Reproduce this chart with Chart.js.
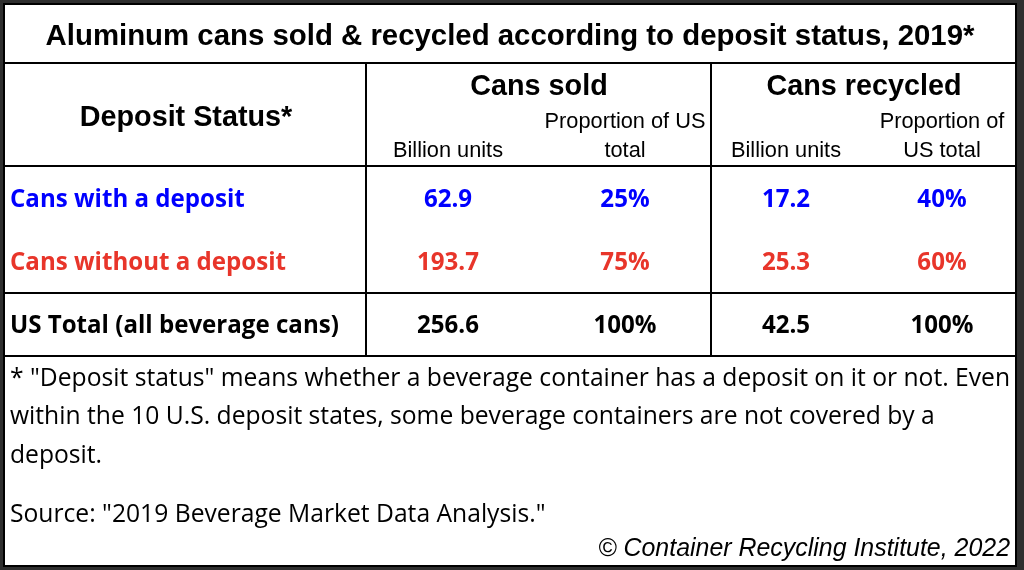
<!DOCTYPE html>
<html>
<head>
<meta charset="utf-8">
<script src="https://cdn.jsdelivr.net/npm/chart.js@4.4.1/dist/chart.umd.min.js"></script>
<style>
  html, body { margin: 0; padding: 0; background: #2f2f2f; }
  #wrap { width: 1024px; height: 570px; }
</style>
</head>
<body>
<div id="wrap"><canvas id="cans"></canvas></div>
<script>
// table content
var title = 'Aluminum cans sold & recycled according to deposit status, 2019*';
var statusHeader = 'Deposit Status*';
var groupLabels = ['Cans sold', 'Cans recycled'];
var subLabels = [['', 'Billion units'], ['Proportion of US', 'total'], ['', 'Billion units'], ['Proportion of', 'US total']];
var rowLabels = ['Cans with a deposit', 'Cans without a deposit', 'US Total (all beverage cans)'];
var soldBillions = [62.9, 193.7, 256.6];
var soldShare = [25, 75, 100];
var recycledBillions = [17.2, 25.3, 42.5];
var recycledShare = [40, 60, 100];
var notes = [
    '* "Deposit status" means whether a beverage container has a deposit on it or not. Even',
    'within the 10 U.S. deposit states, some beverage containers are not covered by a',
    'deposit.'
];
var source = 'Source: "2019 Beverage Market Data Analysis."';
var credit = '\u00a9 Container Recycling Institute, 2022';

// layout (pixel units on the hidden linear scales)
var colX = [10, 448, 625, 786, 942];
var groupX = [539, 864];
var rowY = [207, 270, 333];
var rowColors = ['#0000ff', '#e8352a', '#000000'];
var hLines = [63, 166, 293, 356];
var vLines = [366, 711];
var frame = { left: 4, right: 1016, top: 4, bottom: 566 };

var ARIAL = '"Liberation Sans", Arial, sans-serif';
var CALIBRI = '"Open Sans", "Noto Sans", sans-serif';

function fitFont(ctx, style, family, text, width) {
    ctx.font = style + ' 100px ' + family;
    var w = ctx.measureText(text).width;
    return style + ' ' + (100 * width / w).toFixed(2) + 'px ' + family;
}

function fmtNum(v) { return v.toFixed(1); }
function fmtPct(v) { return v + '%'; }

const tablePlugin = {
    id: 'tablePlugin',
    beforeDraw: function (chart) {
        var ctx = chart.ctx, x = chart.scales.x, y = chart.scales.y;
        ctx.save();
        ctx.fillStyle = '#ffffff';
        ctx.fillRect(x.getPixelForValue(frame.left), y.getPixelForValue(frame.top),
            x.getPixelForValue(frame.right) - x.getPixelForValue(frame.left),
            y.getPixelForValue(frame.bottom) - y.getPixelForValue(frame.top));
        ctx.restore();
    },
    afterDraw: function (chart) {
        var ctx = chart.ctx, x = chart.scales.x, y = chart.scales.y;
        ctx.save();

        // grid lines
        ctx.strokeStyle = '#000';
        ctx.lineWidth = 2;
        ctx.strokeRect(x.getPixelForValue(frame.left), y.getPixelForValue(frame.top),
            x.getPixelForValue(frame.right) - x.getPixelForValue(frame.left),
            y.getPixelForValue(frame.bottom) - y.getPixelForValue(frame.top));
        ctx.beginPath();
        hLines.forEach(function (v) {
            ctx.moveTo(x.getPixelForValue(frame.left), y.getPixelForValue(v));
            ctx.lineTo(x.getPixelForValue(frame.right), y.getPixelForValue(v));
        });
        vLines.forEach(function (v) {
            ctx.moveTo(x.getPixelForValue(v), y.getPixelForValue(hLines[0]));
            ctx.lineTo(x.getPixelForValue(v), y.getPixelForValue(hLines[hLines.length - 1]));
        });
        ctx.stroke();

        ctx.textBaseline = 'alphabetic';
        ctx.fillStyle = '#000';

        // title
        ctx.textAlign = 'center';
        ctx.font = fitFont(ctx, 'bold', ARIAL, title, 929);
        ctx.fillText(title, x.getPixelForValue(510), y.getPixelForValue(45));

        // headers
        ctx.font = fitFont(ctx, 'bold', ARIAL, groupLabels[1], 195);
        ctx.fillText(statusHeader, x.getPixelForValue(186), y.getPixelForValue(126));
        groupLabels.forEach(function (g, i) {
            ctx.fillText(g, x.getPixelForValue(groupX[i]), y.getPixelForValue(95));
        });
        ctx.font = fitFont(ctx, '', ARIAL, subLabels[1][0], 161);
        subLabels.forEach(function (s, i) {
            ctx.fillText(s[0], x.getPixelForValue(colX[i + 1]), y.getPixelForValue(128));
            ctx.fillText(s[1], x.getPixelForValue(colX[i + 1]), y.getPixelForValue(157));
        });

        // body cells
        var cellFont = fitFont(ctx, 'bold', CALIBRI, rowLabels[1], 276);
        ctx.font = cellFont;
        rowLabels.forEach(function (label, r) {
            ctx.fillStyle = rowColors[r];
            ctx.textAlign = 'left';
            ctx.fillText(label, x.getPixelForValue(colX[0]), y.getPixelForValue(rowY[r]));
            ctx.textAlign = 'center';
            var cells = [fmtNum(soldBillions[r]), fmtPct(soldShare[r]), fmtNum(recycledBillions[r]), fmtPct(recycledShare[r])];
            cells.forEach(function (t, c) {
                ctx.fillText(t, x.getPixelForValue(colX[c + 1]), y.getPixelForValue(rowY[r]));
            });
        });

        // footnote
        ctx.fillStyle = '#000';
        ctx.textAlign = 'left';
        ctx.font = fitFont(ctx, '', CALIBRI, notes[0], 1000);
        var noteY = [386, 424, 463];
        notes.forEach(function (n, i) {
            ctx.fillText(n, x.getPixelForValue(10), y.getPixelForValue(noteY[i]));
        });
        ctx.fillText(source, x.getPixelForValue(10), y.getPixelForValue(522));

        ctx.textAlign = 'right';
        ctx.font = fitFont(ctx, 'italic', ARIAL, credit, 412);
        ctx.fillText(credit, x.getPixelForValue(1010), y.getPixelForValue(556));

        ctx.restore();
    }
};

new Chart(document.getElementById('cans').getContext('2d'), {
    type: 'scatter',
    data: { datasets: [{ data: [], pointRadius: 0 }] },
    plugins: [tablePlugin],
    options: {
        responsive: true,
        maintainAspectRatio: false,
        animation: false,
        events: [],
        layout: { padding: 0 },
        scales: {
            x: { type: 'linear', min: 0, max: 1024, display: false },
            y: { type: 'linear', min: 0, max: 570, reverse: true, display: false }
        },
        plugins: {
            legend: { display: false },
            tooltip: { enabled: false }
        }
    }
});
</script>
</body>
</html>
